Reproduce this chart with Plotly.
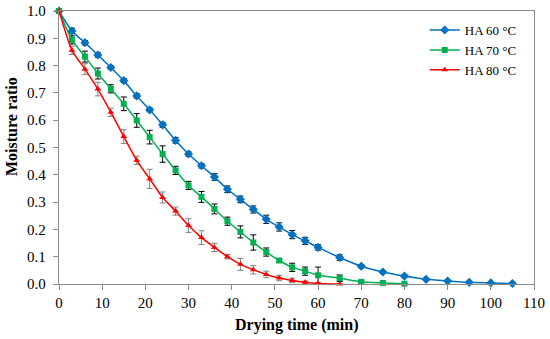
import plotly.graph_objects as go

time_60 = [0, 3, 6, 9, 12, 15, 18, 21, 24, 27, 30, 33, 36, 39, 42, 45, 48, 51, 54, 57, 60,
           65, 70, 75, 80, 85, 90, 95, 100, 105]
mr_60 = [1.0, 0.927, 0.884, 0.839, 0.793, 0.745, 0.689, 0.638, 0.583, 0.526, 0.476, 0.433,
         0.392, 0.347, 0.310, 0.273, 0.237, 0.209, 0.181, 0.158, 0.134,
         0.097, 0.065, 0.044, 0.029, 0.017, 0.011, 0.006, 0.004, 0.002]
err_60 = [0, 0.01, 0.008, 0.008, 0.006, 0.007, 0.008, 0.007, 0.009, 0.01, 0.008, 0.008,
          0.012, 0.012, 0.012, 0.013, 0.015, 0.015, 0.015, 0.013, 0.01,
          0.01, 0.006, 0.004, 0.003, 0.002, 0.002, 0.002, 0.0, 0.0]

time_70 = [0, 3, 6, 9, 12, 15, 18, 21, 24, 27, 30, 33, 36, 39, 42, 45, 48, 51, 54, 57, 60,
           65, 70, 75, 80]
mr_70 = [1.0, 0.894, 0.833, 0.771, 0.715, 0.660, 0.599, 0.538, 0.476, 0.416, 0.361, 0.319,
         0.275, 0.230, 0.191, 0.152, 0.117, 0.086, 0.061, 0.047, 0.032,
         0.021, 0.008, 0.004, 0.001]
err_70 = [0, 0.015, 0.02, 0.02, 0.015, 0.025, 0.025, 0.025, 0.03, 0.015, 0.015, 0.02,
          0.018, 0.015, 0.022, 0.028, 0.015, 0.006, 0.015, 0.015, 0.03,
          0.012, 0.005, 0.003, 0.0]

time_80 = [0, 3, 6, 9, 12, 15, 18, 21, 24, 27, 30, 33, 36, 39, 42, 45, 48, 51, 54, 57, 60, 65]
mr_80 = [1.0, 0.856, 0.787, 0.714, 0.629, 0.540, 0.453, 0.385, 0.317, 0.267, 0.214, 0.170,
         0.134, 0.100, 0.072, 0.052, 0.035, 0.022, 0.013, 0.006, 0.002, 0.0]
err_80 = [0, 0.015, 0.02, 0.025, 0.015, 0.025, 0.015, 0.035, 0.02, 0.015, 0.025, 0.025,
          0.015, 0.008, 0.022, 0.015, 0.012, 0.01, 0.008, 0.005, 0.003, 0.0]

series = [
    ("HA 60 °C", time_60, mr_60, err_60, "#0070C0", "diamond", 7, "#000000"),
    ("HA 70 °C", time_70, mr_70, err_70, "#00B050", "square", 6, "#000000"),
    ("HA 80 °C", time_80, mr_80, err_80, "#FF0000", "triangle-up", 6, "#808080"),
]

fig = go.Figure()
for name, x, y, e, col, sym, size, ecol in series:
    fig.add_trace(go.Scatter(
        x=x, y=y, name=name, mode="lines+markers",
        line=dict(color=col, width=1.5, shape="spline", smoothing=0.6),
        marker=dict(symbol=sym, size=size, color=col),
        error_y=dict(type="data", array=e, visible=True, color=ecol, thickness=1, width=3),
        cliponaxis=False,
    ))

font_fam = "Liberation Serif"
axis_common = dict(
    showgrid=False, zeroline=False, showline=True, linecolor="#8c8c8c", linewidth=1.3,
    mirror=True, ticks="outside", ticklen=5, tickcolor="#8c8c8c", tickwidth=1,
    tickfont=dict(family=font_fam, size=15, color="#000000"),
    automargin=False,
)

fig.update_layout(
    width=550, height=339,
    margin=dict(l=59, r=16, t=11, b=55),
    paper_bgcolor="white", plot_bgcolor="white",
    font=dict(family=font_fam, color="#000000"),
    showlegend=True,
    legend=dict(x=0.77, y=0.985, xanchor="left", yanchor="top",
                font=dict(family=font_fam, size=13, color="#000000"),
                bgcolor="rgba(0,0,0,0)", tracegroupgap=0, itemwidth=30),
    xaxis=dict(range=[0, 110], dtick=10, tick0=0, **axis_common),
    yaxis=dict(range=[0, 1], dtick=0.1, tick0=0, tickformat=".1f",
               ticklabelstandoff=4, **axis_common),
    annotations=[
        dict(text="<b>Drying time (min)</b>", xref="paper", yref="paper",
             x=0.5, y=-41 / 273, xanchor="center", yanchor="middle", showarrow=False,
             font=dict(family=font_fam, size=16, color="#000000")),
        dict(text="<b>Moisture ratio</b>", xref="paper", yref="paper",
             x=-48 / 475, y=(284 - 127) / 273, xanchor="center", yanchor="middle",
             textangle=-90, showarrow=False,
             font=dict(family=font_fam, size=16, color="#000000")),
    ],
)

fig.write_html("out.html", config={"displayModeBar": False},
               post_script="document.body.style.margin='0px';document.body.style.overflow='hidden';")
